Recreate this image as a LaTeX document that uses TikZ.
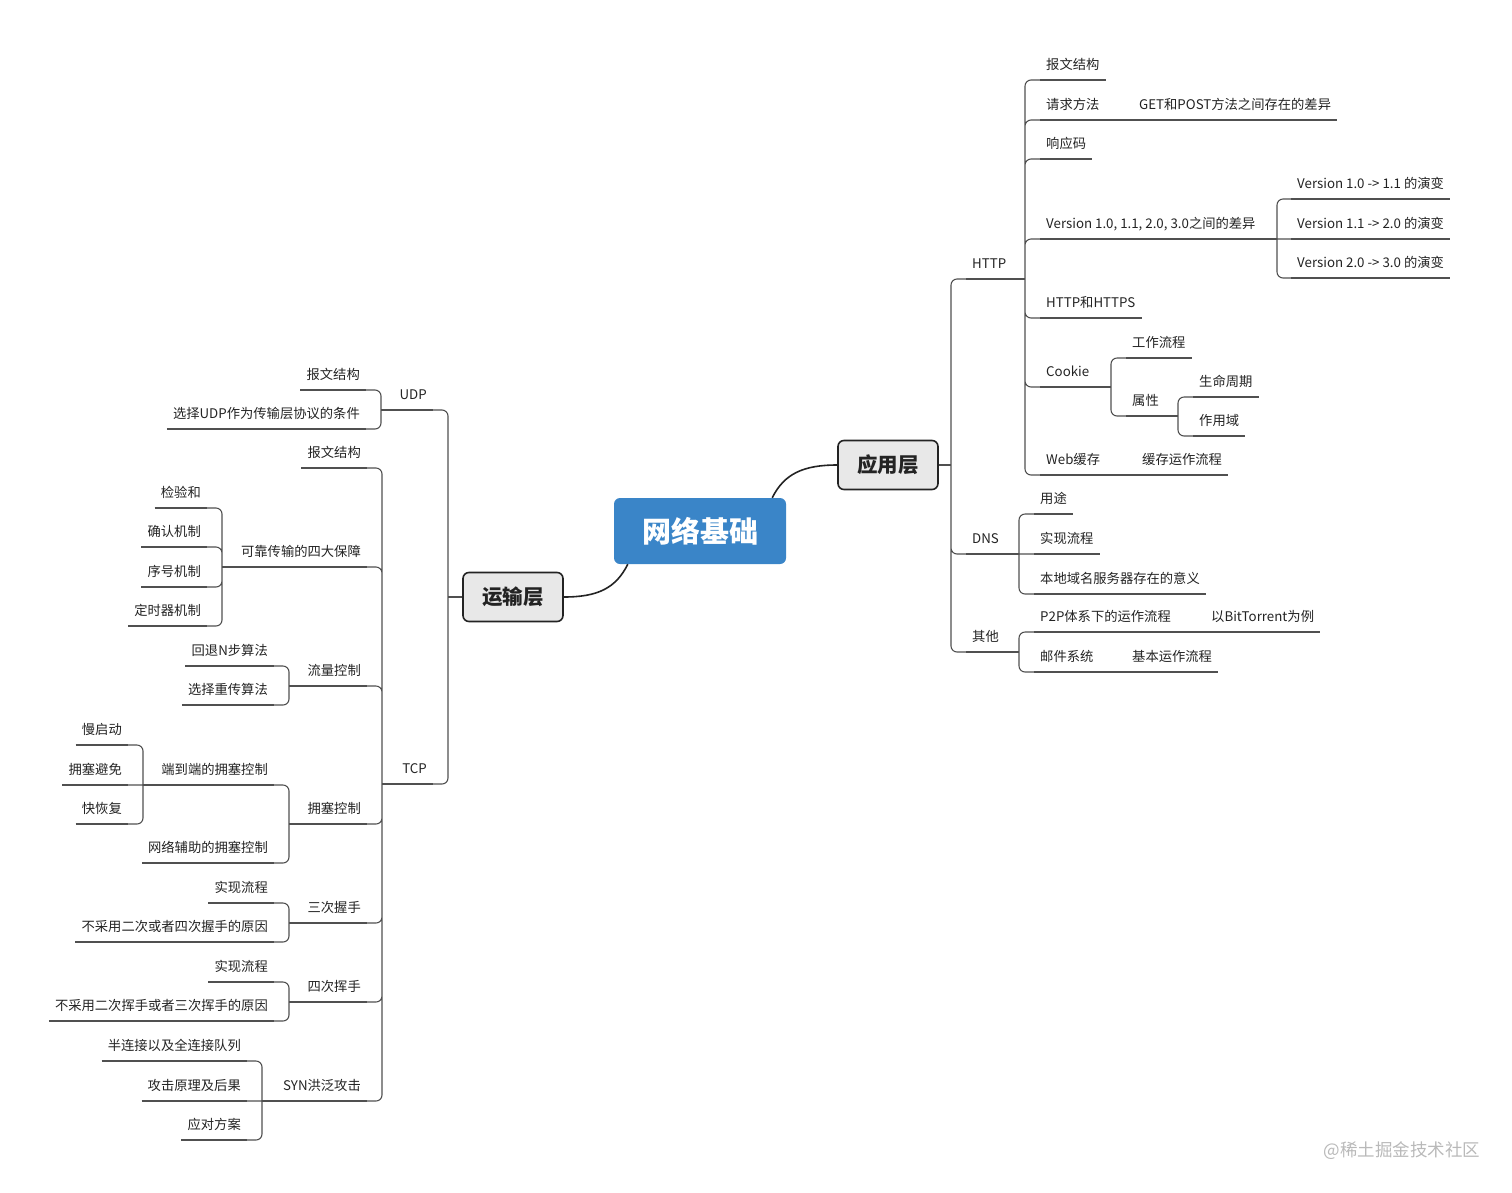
\documentclass[tikz,border=0pt]{standalone}
\usepackage{fontspec}
\setmainfont{Noto Sans CJK SC}
\usepackage{tikz}
\usetikzlibrary{calc}
\definecolor{rootblue}{RGB}{58,133,200}
\definecolor{linegray}{RGB}{80,80,80}
\definecolor{boxgray}{RGB}{232,232,232}
\definecolor{txtgray}{RGB}{35,35,35}

\begin{document}
\begin{tikzpicture}[
  x=1pt, y=-1pt,
  every node/.style={font=\fontsize{13.3}{16}\selectfont, text=txtgray},
  root/.style={fill=rootblue, rounded corners=6pt, text=white,
               minimum width=172pt, minimum height=66pt,
               font=\fontsize{29}{34}\selectfont\bfseries},
  layer/.style={draw=txtgray, line width=1.6pt, fill=boxgray, rounded corners=6pt,
                minimum width=100pt, minimum height=49pt,
                font=\fontsize{20.5}{24}\selectfont\bfseries},
  branch/.style={draw=linegray, line width=1.1pt, rounded corners=6pt},
  curve/.style={draw=txtgray, line width=1.6pt},
  topicR/.style={anchor=south west, inner xsep=6pt, inner ysep=7pt,
                 text height=10pt, text depth=3pt,
                 append after command={(\tikzlastnode.south west) edge[branch] (\tikzlastnode.south east)}},
  topicL/.style={anchor=south east, inner xsep=6pt, inner ysep=7pt,
                 text height=10pt, text depth=3pt,
                 append after command={(\tikzlastnode.south west) edge[branch] (\tikzlastnode.south east)}},
]
\useasboundingbox (0,0) rectangle (1512,1192);

%% ── Centre ───────────────────────────────────────────────────────────────────
\node[root]  (root)  at (700,531) {网络基础};
\node[layer] (app)   at (888,465) {应用层};
\node[layer] (trans) at (513,597) {运输层};

\draw[curve] ([xshift=-14pt]root.north east) .. controls +(12,-24) and +(-34,0) .. (app.west);
\draw[curve] ([xshift=14pt]root.south west) .. controls +(-12,24) and +(34,0) .. (trans.east);

%% ── Application layer (right) ────────────────────────────────────────────────
\coordinate (jApp) at (951,465);
\node[topicR] (http)  at (966,279) {HTTP};
\node[topicR] (dns)   at (966,554) {DNS};
\node[topicR] (other) at (966,652) {其他};

% HTTP
\coordinate (jHttp) at (1025,279);
\node[topicR] (hMsg)       at (1040,80)  {报文结构};
\node[topicR] (hMethod)    at (1040,120) {请求方法};
\node[topicR] (hGetPost)   at (1133,120) {GET和POST方法之间存在的差异};
\node[topicR] (hCode)      at (1040,159) {响应码};
\node[topicR] (hVer)       at (1040,239) {Version 1.0, 1.1, 2.0, 3.0之间的差异};
\node[topicR] (hHttps)     at (1040,318) {HTTP和HTTPS};
\node[topicR] (hCookie)    at (1040,387) {Cookie};
\node[topicR] (hCache)     at (1040,475) {Web缓存};
\node[topicR] (hCacheFlow) at (1136,475) {缓存运作流程};

\coordinate (jVer) at (1277,239);
\node[topicR] (v1) at (1291,199) {Version 1.0 -> 1.1 的演变};
\node[topicR] (v2) at (1291,239) {Version 1.1 -> 2.0 的演变};
\node[topicR] (v3) at (1291,278) {Version 2.0 -> 3.0 的演变};

\coordinate (jCookie) at (1111,387);
\node[topicR] (cWork) at (1126,358) {工作流程};
\node[topicR] (cAttr) at (1126,416) {属性};
\coordinate (jAttr) at (1178,416);
\node[topicR] (aLife)  at (1193,397) {生命周期};
\node[topicR] (aScope) at (1193,436) {作用域};

% DNS
\coordinate (jDns) at (1019,554);
\node[topicR] (dUse)   at (1034,514) {用途};
\node[topicR] (dFlow)  at (1034,554) {实现流程};
\node[topicR] (dLocal) at (1034,594) {本地域名服务器存在的意义};

% other
\coordinate (jOther) at (1019,652);
\node[topicR] (oP2P)      at (1034,632) {P2P体系下的运作流程};
\node[topicR] (oBT)       at (1205,632) {以BitTorrent为例};
\node[topicR] (oMail)     at (1034,672) {邮件系统};
\node[topicR] (oMailFlow) at (1126,672) {基本运作流程};

%% ── Transport layer (left) ───────────────────────────────────────────────────
\coordinate (jTrans) at (448,597);
\node[topicL] (udp) at (433,410) {UDP};
\node[topicL] (tcp) at (433,784) {TCP};

% UDP
\coordinate (jUdp) at (381,410);
\node[topicL] (uMsg) at (366,390) {报文结构};
\node[topicL] (uWhy) at (366,429) {选择UDP作为传输层协议的条件};

% TCP
\coordinate (jTcp) at (382,784);
\node[topicL] (tMsg)   at (367,468)  {报文结构};
\node[topicL] (tRel)   at (367,567)  {可靠传输的四大保障};
\node[topicL] (tFlow)  at (367,686)  {流量控制};
\node[topicL] (tCong)  at (367,824)  {拥塞控制};
\node[topicL] (tThree) at (367,923)  {三次握手};
\node[topicL] (tFour)  at (367,1002) {四次挥手};
\node[topicL] (tSyn)   at (367,1101) {SYN洪泛攻击};

\coordinate (jRel) at (222,567);
\node[topicL] (rSum)   at (207,508) {检验和};
\node[topicL] (rAck)   at (207,547) {确认机制};
\node[topicL] (rSeq)   at (207,587) {序号机制};
\node[topicL] (rTimer) at (207,626) {定时器机制};

\coordinate (jFlow) at (289,686);
\node[topicL] (fGbn) at (274,666) {回退N步算法};
\node[topicL] (fSr)  at (274,705) {选择重传算法};

\coordinate (jCong) at (289,824);
\node[topicL] (gE2E) at (274,785) {端到端的拥塞控制};
\node[topicL] (gNet) at (274,863) {网络辅助的拥塞控制};
\coordinate (jE2E) at (143,785);
\node[topicL] (eSlow)  at (128,745) {慢启动};
\node[topicL] (eAvoid) at (128,785) {拥塞避免};
\node[topicL] (eFast)  at (128,824) {快恢复};

\coordinate (jThree) at (289,923);
\node[topicL] (sFlow) at (274,903) {实现流程};
\node[topicL] (sWhy)  at (274,942) {不采用二次或者四次握手的原因};

\coordinate (jFour) at (289,1002);
\node[topicL] (wFlow) at (274,982)  {实现流程};
\node[topicL] (wWhy)  at (274,1021) {不采用二次挥手或者三次挥手的原因};

\coordinate (jSyn) at (262,1101);
\node[topicL] (yQueue) at (247,1061) {半连接以及全连接队列};
\node[topicL] (yHow)   at (247,1101) {攻击原理及后果};
\node[topicL] (yFix)   at (247,1140) {应对方案};

%% ── Branches, right ──────────────────────────────────────────────────────────
\draw[branch] (app.east) -- (jApp);
\draw[branch] (jApp) |- (http.south west) (jApp) |- (dns.south west) (jApp) |- (other.south west);

\draw[branch] (http.south east) -- (jHttp);
\draw[branch] (jHttp) |- (hMsg.south west) (jHttp) |- (hMethod.south west)
              (jHttp) |- (hCode.south west) (jHttp) |- (hVer.south west)
              (jHttp) |- (hHttps.south west) (jHttp) |- (hCookie.south west)
              (jHttp) |- (hCache.south west);
\draw[branch] (hMethod.south east) -- (hGetPost.south west);
\draw[branch] (hCache.south east) -- (hCacheFlow.south west);

\draw[branch] (hVer.south east) -- (jVer);
\draw[branch] (jVer) |- (v1.south west) (jVer) -- (v2.south west) (jVer) |- (v3.south west);

\draw[branch] (hCookie.south east) -- (jCookie);
\draw[branch] (jCookie) |- (cWork.south west) (jCookie) |- (cAttr.south west);
\draw[branch] (cAttr.south east) -- (jAttr);
\draw[branch] (jAttr) |- (aLife.south west) (jAttr) |- (aScope.south west);

\draw[branch] (dns.south east) -- (jDns);
\draw[branch] (jDns) |- (dUse.south west) (jDns) -- (dFlow.south west) (jDns) |- (dLocal.south west);

\draw[branch] (other.south east) -- (jOther);
\draw[branch] (jOther) |- (oP2P.south west) (jOther) |- (oMail.south west);
\draw[branch] (oP2P.south east) -- (oBT.south west);
\draw[branch] (oMail.south east) -- (oMailFlow.south west);

%% ── Branches, left ───────────────────────────────────────────────────────────
\draw[branch] (trans.west) -- (jTrans);
\draw[branch] (jTrans) |- (udp.south east) (jTrans) |- (tcp.south east);

\draw[branch] (udp.south west) -- (jUdp);
\draw[branch] (jUdp) |- (uMsg.south east) (jUdp) |- (uWhy.south east);

\draw[branch] (tcp.south west) -- (jTcp);
\draw[branch] (jTcp) |- (tMsg.south east) (jTcp) |- (tRel.south east)
              (jTcp) |- (tFlow.south east) (jTcp) |- (tCong.south east)
              (jTcp) |- (tThree.south east) (jTcp) |- (tFour.south east)
              (jTcp) |- (tSyn.south east);

\draw[branch] (tRel.south west) -- (jRel);
\draw[branch] (jRel) |- (rSum.south east) (jRel) |- (rAck.south east)
              (jRel) |- (rSeq.south east) (jRel) |- (rTimer.south east);

\draw[branch] (tFlow.south west) -- (jFlow);
\draw[branch] (jFlow) |- (fGbn.south east) (jFlow) |- (fSr.south east);

\draw[branch] (tCong.south west) -- (jCong);
\draw[branch] (jCong) |- (gE2E.south east) (jCong) |- (gNet.south east);
\draw[branch] (gE2E.south west) -- (jE2E);
\draw[branch] (jE2E) |- (eSlow.south east) (jE2E) -- (eAvoid.south east) (jE2E) |- (eFast.south east);

\draw[branch] (tThree.south west) -- (jThree);
\draw[branch] (jThree) |- (sFlow.south east) (jThree) |- (sWhy.south east);

\draw[branch] (tFour.south west) -- (jFour);
\draw[branch] (jFour) |- (wFlow.south east) (jFour) |- (wWhy.south east);

\draw[branch] (tSyn.south west) -- (jSyn);
\draw[branch] (jSyn) |- (yQueue.south east) (jSyn) -- (yHow.south east) (jSyn) |- (yFix.south east);

%% ── Watermark ────────────────────────────────────────────────────────────────
\node[font=\fontsize{17.5}{20}\selectfont, text=gray!55] (mark) at (1402,1151) {@稀土掘金技术社区};

\end{tikzpicture}
\end{document}
